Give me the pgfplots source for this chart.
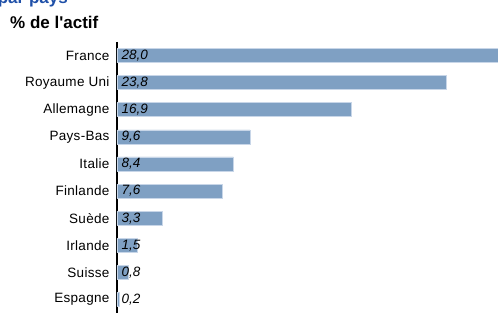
\documentclass[border=0pt]{standalone}
\usepackage{pgfplots}
\pgfplotsset{compat=1.18}
\usepackage{pgfplotstable}
\usepackage{fontspec}
\setmainfont{Liberation Sans}
\definecolor{barfill}{HTML}{7FA0C3}
\definecolor{baredge}{HTML}{C8D6E8}
\definecolor{titleblue}{HTML}{1F50A8}
\pgfplotstableread{
y v
0 28.0
1 23.8
2 16.9
3 9.6
4 8.4
5 7.6
6 3.3
7 1.5
8 0.8
9 0.2
}\datatable
\begin{document}
\begin{tikzpicture}
\useasboundingbox (-117bp,-23bp) rectangle (381bp,313bp);
\node[anchor=base east, inner sep=0pt, text=titleblue, font=\fontsize{17bp}{20bp}\selectfont\bfseries] at (-49bp,309bp) {Répartition par pays};
\node[anchor=base west, inner sep=0pt, font=\fontsize{17bp}{20bp}\selectfont\bfseries] at (-107bp,284bp) {\% de l\textquotesingle actif};
\begin{axis}[
  at={(0,0)}, anchor=south west,
  scale only axis, width=381bp, height=271bp,
  xmin=0, xmax=27.5, ymin=-0.5, ymax=9.5,
  y dir=reverse,
  hide x axis,
  axis y line=left,
  y axis line style={line width=1.5pt, -},
  ytick={0,...,9},
  yticklabels={France,Royaume Uni,Allemagne,Pays-Bas,Italie,Finlande,Suède,Irlande,Suisse,Espagne},
  ytick style={draw=none},
  yticklabel style={font=\fontsize{13.5bp}{15bp}\selectfont\addfontfeatures{LetterSpace=2}, xshift=-2bp},
  clip=true,
  /pgf/number format/assume math mode=true,
]
\addplot[xbar, bar width=14bp, fill=barfill, draw=baredge, line width=0.6pt] table[x=v, y=y] {\datatable};
\addplot[draw=none, mark=none, point meta=\thisrow{v},
  nodes near coords={\pgfmathprintnumber[fixed, fixed zerofill, precision=1, use comma, assume math mode=true]{\pgfplotspointmeta}},
  every node near coord/.append style={anchor=west, font=\fontsize{13.5bp}{15bp}\selectfont\itshape, inner sep=0pt, xshift=4.5bp, yshift=0bp}]
  table[x expr=0, y=y] {\datatable};
\end{axis}
\end{tikzpicture}
\end{document}
